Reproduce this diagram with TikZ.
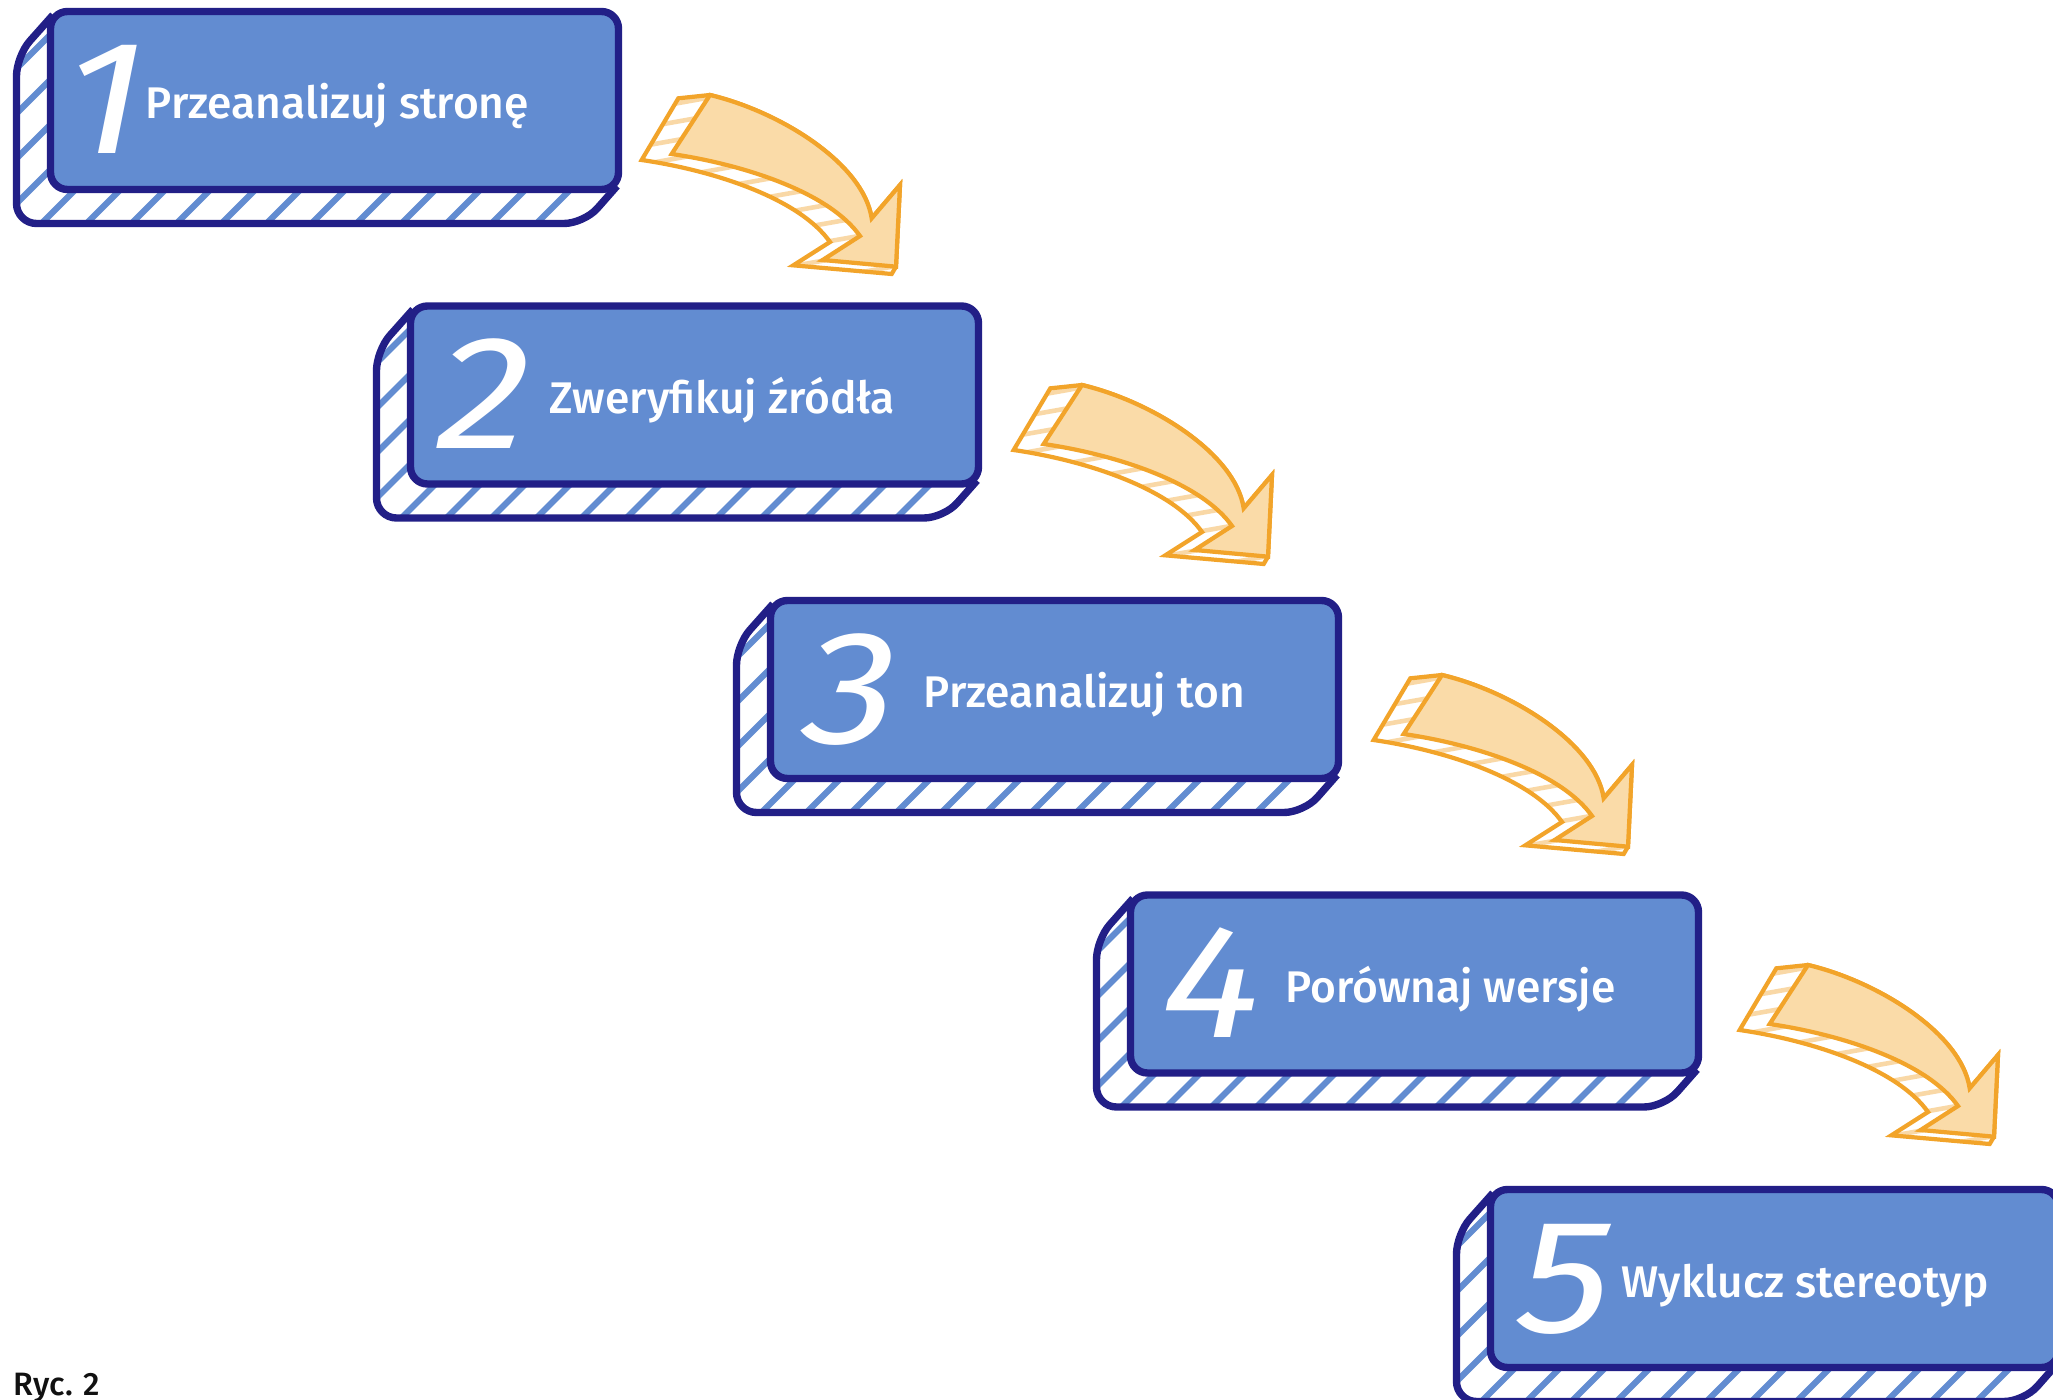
\documentclass[tikz,border=0pt]{standalone}
\usepackage{fontspec}
\setmainfont{Fira Sans}
\newfontfamily\labelfont{Fira Sans Medium}
\newfontfamily\digitfont{Fira Sans}[FakeSlant=0.2, FakeStretch=1.15]
\usetikzlibrary{positioning}
\definecolor{boxnavy}{RGB}{34,31,135}
\definecolor{boxblue}{RGB}{98,140,209}
\definecolor{arroworange}{RGB}{242,164,42}
\definecolor{arrowfill}{RGB}{250,219,168}
\definecolor{arrowstripe}{RGB}{249,216,166}
\definecolor{captionblack}{RGB}{17,17,17}
\tikzset{boxline/.style = {draw=boxnavy, line width=2.1pt, line join=round},
         boxface/.style = {boxline, fill=boxblue, rounded corners=0.17cm},
         boxstripe/.style = {boxblue, line width=1.8pt},
         arrowline/.style = {draw=arroworange, line width=1.2pt, line join=miter},
         arrowhatch/.style = {arrowstripe, line width=1.3pt},
         numtext/.style = {text=white, font=\digitfont\fontsize{46}{46}\selectfont, anchor=base, inner sep=0pt},
         steptext/.style = {text=white, font=\labelfont\fontsize{12.6}{15}\selectfont, anchor=base west, inner sep=0pt}}
% side of a box, relative to its top left corner (px)
\newcommand{\boxside}{(6,7) -- (-30.5,48) -- (-30.5,215.5) -- (537,215.5) -- (570,178)}
% curved arrow, relative to its own corner (1/3 px)
\newcommand{\arrowfront}{(240,45) -- (125,222) .. controls (350,255) and (600,340) .. (690,468) -- (578,540) -- (798,560) -- (810,315) -- (725,415) .. controls (700,250) and (450,95) .. (240,45) -- cycle}
\newcommand{\arrowback}{(240,45) -- (145,55) -- (35,240) .. controls (260,273) and (510,358) .. (600,486) -- (490,556) -- (785,582) -- (798,560) -- (810,315) -- (725,415) .. controls (700,250) and (450,95) .. (240,45) -- cycle}

\begin{document}
\begin{tikzpicture}[x=0.01cm, y=-0.01cm]
	\clip (0,0) rectangle (2053,1400);
	\fill[white] (0,0) rectangle (2053,1400);
	% the five steps
	\foreach \i/\lbl/\nx/\tx in {1/Przeanalizuj stronę/49/98, 2/Zweryfikuj źródła/69/142, 3/Przeanalizuj ton/75/156, 4/Porównaj wersje/76/158, 5/Wyklucz stereotyp/69/134}{
		\begin{scope}[shift={({47+360*(\i-1)},{8+294.5*(\i-1)})}]
			\begin{scope}
				\clip[rounded corners=0.2cm] \boxside -- cycle;
				\fill[white] (-40,0) rectangle (580,230);
				\foreach \s in {-300,-255,...,600}
					\draw[boxstripe] (\s,240) -- ++(260,-260);
			\end{scope}
			\draw[boxline, rounded corners=0.2cm] \boxside;
			\draw[boxface] (3.5,3.5) rectangle (571.5,181.5);
			\node[numtext] (num\i) at (\nx,146) {\i};
			\node[steptext] (step\i) at (\tx,111) {\lbl};
		\end{scope}
	}
	% the four arrows
	\foreach \i/\ax/\ay in {1/630/80, 2/1002/370, 3/1362/660, 4/1728/950}{
		\begin{scope}[shift={(\ax,\ay)}, scale=1/3]
			\begin{scope}
				\clip \arrowback;
				\fill[white] (0,0) rectangle (840,600);
				\foreach \y in {40,95,...,900}
					\draw[arrowhatch] (0,\y) -- (900,{\y-160});
			\end{scope}
			\draw[arrowline] \arrowback;
			\draw[arrowline, fill=arrowfill] \arrowfront;
		\end{scope}
	}
	\node[anchor=base west, inner sep=0pt, text=captionblack, font=\labelfont\fontsize{9.2}{11}\selectfont] (caption) at (13,1395) {Ryc. 2};
\end{tikzpicture}
\end{document}
